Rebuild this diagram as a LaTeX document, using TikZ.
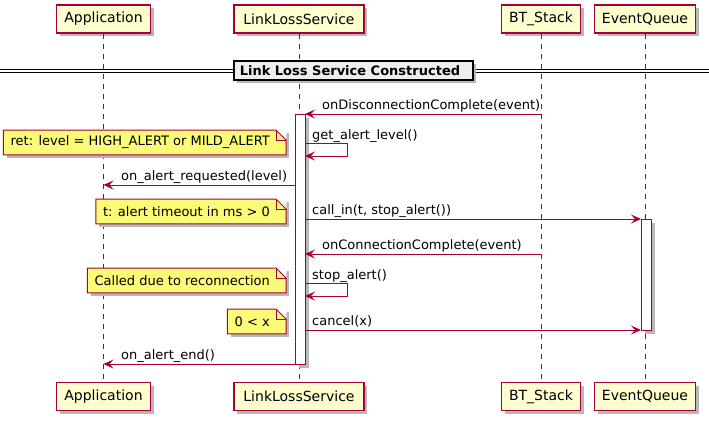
\documentclass[tikz,border=0pt]{standalone}
\usepackage{fontspec}
\setmainfont{DejaVu Sans}
\usetikzlibrary{arrows.meta}
\definecolor{pborder}{HTML}{A80036}
\definecolor{pfill}{HTML}{FEFECE}
\definecolor{nfill}{HTML}{FBFB77}
\definecolor{dfill}{HTML}{EEEEEE}
\tikzset{
  shadowed/.style={preaction={draw=none,fill=black!28,transform canvas={xshift=3pt,yshift=-3pt}}},
  part/.style={shadowed,draw=pborder,fill=pfill,line width=1.3pt,minimum height=28pt,inner sep=0pt,font=\fontsize{14}{17}\selectfont},
  life/.style={draw=pborder,line width=0.9pt,dash pattern=on 5pt off 5pt},
  actbox/.style={shadowed,draw=pborder,fill=white,line width=1pt,inner sep=0pt,minimum width=10pt,anchor=north west},
  msg/.style={draw=pborder,line width=1pt,-{Stealth[length=10pt,width=9pt,inset=4pt]}},
  lbl/.style={font=\fontsize{13}{15}\selectfont,inner sep=0pt,anchor=base west},
  notebox/.style={shadowed,fill=nfill,minimum height=24.5pt,inner ysep=0pt,inner xsep=7pt,anchor=north east,font=\fontsize{13}{15}\selectfont},
  noteline/.style={draw=pborder,line width=1pt},
  divbox/.style={shadowed,draw=black,line width=1.6pt,fill=dfill,minimum height=19pt,inner ysep=0pt,inner xsep=6pt,anchor=west,font=\bfseries\fontsize{13}{15}\selectfont},
  divline/.style={draw=black,line width=1pt},
}
\newcommand\drawnotefold[1]{%
  \fill[white] ([xshift=-10pt]#1.north east) -- ([xshift=1pt,yshift=1pt]#1.north east) -- ([yshift=-10pt]#1.north east) -- cycle;
  \draw[noteline] (#1.north west) -- ([xshift=-10pt]#1.north east) -- ([yshift=-10pt]#1.north east) -- (#1.south east) -- (#1.south west) -- cycle;
  \draw[noteline] ([xshift=-10pt]#1.north east) -- ([xshift=-10pt,yshift=-10pt]#1.north east) -- ([yshift=-10pt]#1.north east);
}
\begin{document}
\begin{tikzpicture}[x=1pt,y=-1pt]
\useasboundingbox (0,0) rectangle (709,424);
% participants
\node[part,minimum width=94pt] (appT) at (103.5,19) {Application};
\node[part,minimum width=130pt] (llsT) at (299,19) {LinkLossService};
\node[part,minimum width=79pt] (btT) at (541,19) {BT\_Stack};
\node[part,minimum width=101pt] (eqT) at (645,19) {EventQueue};
\node[part,minimum width=94pt] (appB) at (103.5,396.5) {Application};
\node[part,minimum width=130pt] (llsB) at (299,396.5) {LinkLossService};
\node[part,minimum width=79pt] (btB) at (541,396.5) {BT\_Stack};
\node[part,minimum width=101pt] (eqB) at (645,396.5) {EventQueue};
% lifelines
\draw[life] (appT) -- (appB);
\draw[life] (llsT) -- (llsB);
\draw[life] (btT) -- (btB);
\draw[life] (eqT) -- (eqB);
% divider
\draw[divline] (0,69.5) -- (709,69.5);
\draw[divline] (0,72.5) -- (709,72.5);
\node[divbox] (div) at (233,70.5) {Link Loss Service Constructed\hspace*{7pt}};
% activations
\node[actbox,minimum height=250pt] (act1) at (295,114) {};
\node[actbox,minimum height=111pt] (act2) at (641,219) {};
% coordinates
\coordinate (bt1) at (541,114);
\coordinate (l1) at (305,114);
\coordinate (s1a) at (305,143);
\coordinate (s1b) at (347,143);
\coordinate (s1c) at (347,156);
\coordinate (s1d) at (305,156);
\coordinate (l3) at (295,185);
\coordinate (ap3) at (103.5,185);
\coordinate (l4) at (305,219);
\coordinate (eq4) at (641,219);
\coordinate (bt5) at (541,254);
\coordinate (l5) at (305,254);
\coordinate (s2a) at (305,283);
\coordinate (s2b) at (347,283);
\coordinate (s2c) at (347,296);
\coordinate (s2d) at (305,296);
\coordinate (l7) at (305,330);
\coordinate (eq7) at (641,330);
\coordinate (l8) at (295,364);
\coordinate (ap8) at (103.5,364);
% messages
\draw[msg] (bt1) -- (l1);
\node[lbl] (t1) at (322,109) {onDisconnectionComplete(event)};
\draw[msg] (s1a) -- (s1b) -- (s1c) -- (s1d);
\node[lbl] (t2) at (312,139) {get\_alert\_level()};
\draw[msg] (l3) -- (ap3);
\node[lbl] (t3) at (121,180) {on\_alert\_requested(level)};
\draw[msg] (l4) -- (eq4);
\node[lbl] (t4) at (312,214) {call\_in(t, stop\_alert())};
\draw[msg] (bt5) -- (l5);
\node[lbl] (t5) at (322,249) {onConnectionComplete(event)};
\draw[msg] (s2a) -- (s2b) -- (s2c) -- (s2d);
\node[lbl] (t6) at (312,279) {stop\_alert()};
\draw[msg] (l7) -- (eq7);
\node[lbl] (t7) at (312,325) {cancel(x)};
\draw[msg] (l8) -- (ap8);
\node[lbl] (t8) at (121,359) {on\_alert\_end()};
% notes
\node[notebox] (n1) at (286,130) {ret: level = HIGH\_ALERT or MILD\_ALERT\hspace*{9pt}};
\drawnotefold{n1}
\node[notebox] (n2) at (286,199) {t: alert timeout in ms > 0\hspace*{9pt}};
\drawnotefold{n2}
\node[notebox] (n3) at (286,268) {Called due to reconnection\hspace*{9pt}};
\drawnotefold{n3}
\node[notebox] (n4) at (286,309) {0 < x\hspace*{9pt}};
\drawnotefold{n4}
\end{tikzpicture}
\end{document}
